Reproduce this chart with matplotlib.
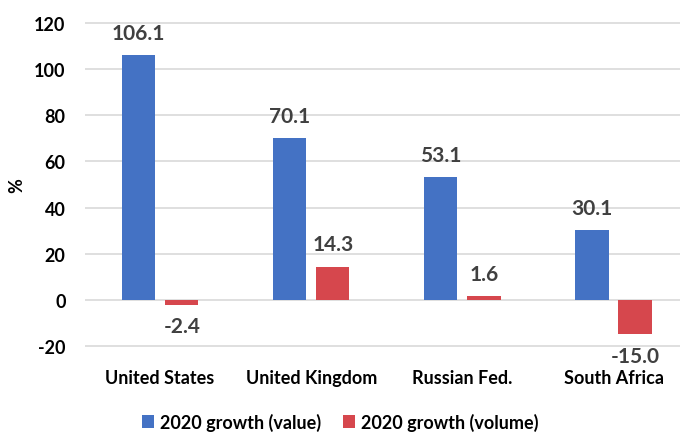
import numpy as np
import matplotlib.pyplot as plt
plt.switch_backend('agg')

# chart values
countries = ["United States", "United Kingdom", "Russian Fed.", "South Africa"]
growth_value = [106.1, 70.1, 53.1, 30.1]
growth_volume = [-2.4, 14.3, 1.6, -15.0]
series_names = ["2020 growth (value)", "2020 growth (volume)"]
yticks = [-20, 0, 20, 40, 60, 80, 100, 120]

plt.rcParams['font.family'] = ['Lato', 'DejaVu Sans']

fig = plt.figure(figsize=(6.8, 4.35), dpi=100)
# axes placed in pixels: left 85, top 19.4, bottom 351.6
ax = fig.add_axes([85 / 680, 1 - 351.6 / 435, 595 / 680, 332.2 / 435])

x = np.arange(len(countries))
w = 0.22
off = 0.143
b1 = ax.bar(x - off, growth_value, w, color='#4472C4', label=series_names[0], zorder=3)
b2 = ax.bar(x + off, growth_volume, w, color='#D6474D', label=series_names[1], zorder=3)

# data labels, grey and bold like the original
for bars in (b1, b2):
    for rect in bars:
        v = rect.get_height()
        cx = rect.get_x() + rect.get_width() / 2
        if v >= 0:
            ax.annotate(f"{v:.1f}", (cx, v), xytext=(0, 9), textcoords='offset points',
                        ha='center', va='bottom', fontsize=15, fontweight='bold', color='#404040')
        else:
            ax.annotate(f"{v:.1f}", (cx, v), xytext=(0, -8), textcoords='offset points',
                        ha='center', va='top', fontsize=15, fontweight='bold', color='#404040')

ax.set_ylim(-22, 122)
ax.set_xlim(-0.497, 3.44)
ax.set_yticks(yticks)
ax.set_yticklabels([str(t) for t in yticks], fontsize=13, fontweight='bold')
ax.set_xticks(x)
ax.set_xticklabels(countries, fontsize=13, fontweight='bold')
ax.tick_params(axis='y', length=0, pad=14)
ax.tick_params(axis='x', length=0, pad=13)
ax.grid(axis='y', color='#d9d9d9', lw=1.2, zorder=0)
for s in ax.spines.values():
    s.set_visible(False)
ax.set_ylabel("%", fontsize=13, fontweight='bold', labelpad=6)

fig.legend(loc='lower center', bbox_to_anchor=(0.5, -0.03), ncol=2, frameon=False,
           prop={'size': 13, 'weight': 'bold'}, handlelength=0.7, handleheight=0.7,
           handletextpad=0.3, columnspacing=1.2)

plt.savefig("out.png")
